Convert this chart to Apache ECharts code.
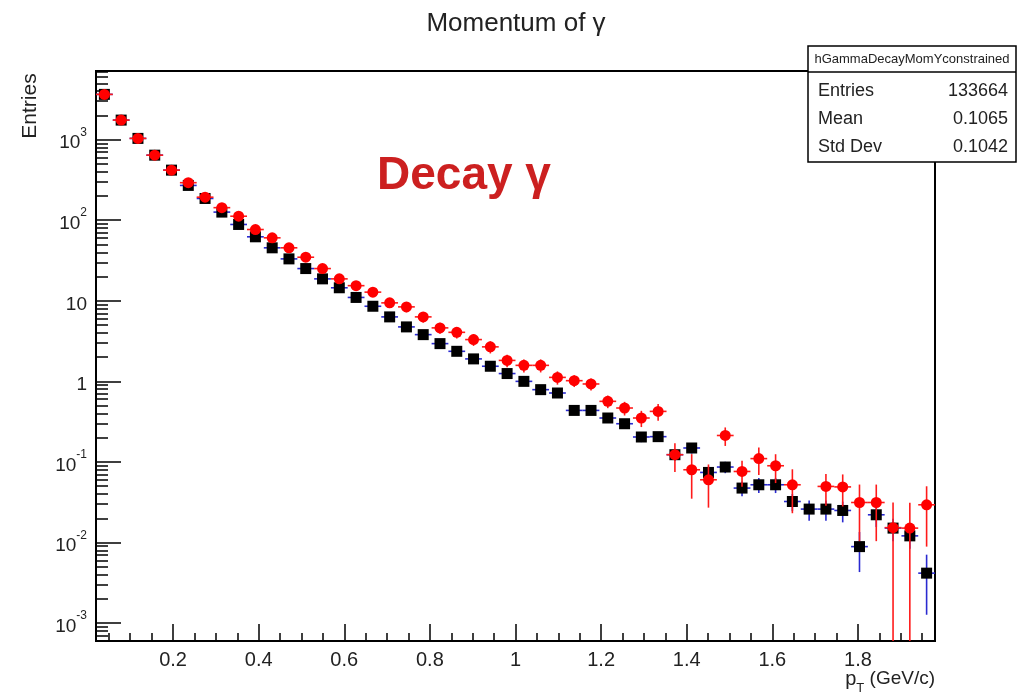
<!DOCTYPE html>
<html>
<head>
<meta charset="utf-8">
<title>Momentum of γ</title>
<script src="https://cdn.jsdelivr.net/npm/echarts@6/dist/echarts.min.js"></script>
<style>
  html, body { margin: 0; padding: 0; background: #ffffff; }
  #chart { width: 1018px; height: 697px; }
</style>
</head>
<body>
<div id="chart"></div>
<script>
// pT bin centres (GeV/c), 50 bins between 0.02 and 1.98
const binCenters = [
  0.0396, 0.0788, 0.1180, 0.1572, 0.1964, 0.2356, 0.2748, 0.3140, 0.3532, 0.3924,
  0.4316, 0.4708, 0.5100, 0.5492, 0.5884, 0.6276, 0.6668, 0.7060, 0.7452, 0.7844,
  0.8236, 0.8628, 0.9020, 0.9412, 0.9804, 1.0196, 1.0588, 1.0980, 1.1372, 1.1764,
  1.2156, 1.2548, 1.2940, 1.3332, 1.3724, 1.4116, 1.4508, 1.4900, 1.5292, 1.5684,
  1.6076, 1.6468, 1.6860, 1.7252, 1.7644, 1.8036, 1.8428, 1.8820, 1.9212, 1.9604
];

// hGammaDecayMomYconstrained (black squares, blue errors)
const entriesBlack = [
  3640, 1746, 1035, 641, 418, 270, 186, 126, 88.5, 62.2,
  45.4, 33.1, 25.1, 18.7, 14.5, 11.0, 8.55, 6.31, 4.74, 3.80,
  2.94, 2.36, 1.90, 1.54, 1.25, 1.00, 0.789, 0.717, 0.436, 0.436,
  0.351, 0.298, 0.204, 0.206, 0.123, 0.149, 0.0741, 0.0865, 0.0474, 0.0521,
  0.0521, 0.0323, 0.0260, 0.0260, 0.0250, 0.0089, 0.0221, 0.0151, 0.0121, 0.00417
];
const errorsBlack = [
  20, 12, 8, 6, 4.5, 3.5, 2.8, 2.2, 1.8, 1.5,
  1.2, 1.0, 0.8, 0.65, 0.55, 0.45, 0.38, 0.3, 0.25, 0.21,
  0.18, 0.15, 0.13, 0.11, 0.095, 0.08, 0.07, 0.065, 0.045, 0.045,
  0.04, 0.035, 0.028, 0.028, 0.02, 0.022, 0.013, 0.014, 0.010, 0.011,
  0.011, 0.0078, 0.0073, 0.0073, 0.0072, 0.0046, 0.0065, 0.0047, 0.0037, 0.0029
];

// decay photon spectrum (red circles, red errors); null = empty bin
const entriesRed = [
  3640, 1746, 1035, 641, 418, 292, 193, 143, 112, 76.6,
  60.4, 45.4, 34.7, 25.1, 18.7, 15.4, 12.8, 9.42, 8.4, 6.31,
  4.61, 4.06, 3.30, 2.68, 1.82, 1.58, 1.58, 1.12, 1.02, 0.928,
  0.565, 0.467, 0.351, 0.424, 0.123, 0.080, 0.0601, 0.213, 0.0762, 0.110,
  0.0897, 0.0521, null, 0.0497, 0.0490, 0.0314, 0.0314, 0.0153, 0.0151, 0.0294
];
const errorsRed = [
  40, 25, 18, 14, 11, 12, 9, 8, 7, 5.5,
  5, 4.2, 3.5, 2.8, 2.2, 1.9, 1.6, 1.3, 1.2, 0.95,
  0.72, 0.66, 0.55, 0.46, 0.32, 0.29, 0.29, 0.21, 0.17, 0.16,
  0.10, 0.09, 0.08, 0.10, 0.048, 0.045, 0.033, 0.055, 0.027, 0.041,
  0.035, 0.029, 0, 0.021, 0.021, 0.021, 0.021, 0.016, 0.016, 0.0205
];

// axis ranges and tick positions
const X_MIN = 0.02, X_MAX = 1.98;
const Y_MIN = 6.0e-4, Y_MAX = 7100;
const HALF_BIN = 0.0196;
const xMajorTicks = [0.2, 0.4, 0.6, 0.8, 1.0, 1.2, 1.4, 1.6, 1.8];
const xMinorTicks = [];
for (let k = 1; k <= 39; k++) {
  if (k % 4 !== 0) xMinorTicks.push(+(k * 0.05).toFixed(2));
}
const yMajorTicks = [1e-3, 1e-2, 1e-1, 1, 10, 100, 1000];
const yMinorTicks = [];
for (let e = -4; e <= 3; e++) {
  for (let m = 2; m <= 9; m++) {
    const v = m * Math.pow(10, e);
    if (v > Y_MIN && v < Y_MAX) yMinorTicks.push(v);
  }
}

const statsTitle = 'hGammaDecayMomYconstrained';
const statsRows = [['Entries', '133664'], ['Mean', '0.1065'], ['Std Dev', '0.1042']];

const FONT = "'Liberation Sans', Arial, sans-serif";

function errorBarSeries(name, values, errors, color, z) {
  return {
    name: name,
    type: 'custom',
    z: z,
    clip: true,
    silent: true,
    data: binCenters.map((x, i) => values[i] == null ? [x, NaN, 0] : [x, values[i], errors[i]]),
    renderItem: function (params, api) {
      const x = api.value(0), y = api.value(1), e = api.value(2);
      if (!(y > 0)) return null;
      const lo = (y - e) > Y_MIN ? y - e : Y_MIN;
      const hi = Math.min(y + e, Y_MAX);
      const pL = api.coord([x - HALF_BIN, y]);
      const pR = api.coord([x + HALF_BIN, y]);
      const pT = api.coord([x, hi]);
      const pB = api.coord([x, lo]);
      const style = { stroke: color, lineWidth: 1.6 };
      return {
        type: 'group',
        children: [
          { type: 'line', shape: { x1: pL[0], y1: pL[1], x2: pR[0], y2: pR[1] }, style: style },
          { type: 'line', shape: { x1: pT[0], y1: pT[1], x2: pB[0], y2: pB[1] }, style: style }
        ]
      };
    }
  };
}

function markerSeries(name, values, symbol, size, color, z) {
  return {
    name: name,
    type: 'scatter',
    z: z,
    silent: true,
    symbol: symbol,
    symbolSize: size,
    itemStyle: { color: color, opacity: 1 },
    data: binCenters.map((x, i) => values[i] == null ? [x, '-'] : [x, values[i]])
  };
}

function logLabel(v) {
  const e = Math.round(Math.log10(v));
  if (e === 0) return '{b|1}';
  if (e === 1) return '{b|10}';
  return '{b|10}{s|' + e + '}';
}

const chart = echarts.init(document.getElementById('chart'), null, { renderer: 'canvas' });

const option = {
  backgroundColor: '#ffffff',
  animation: false,
  grid: {
    left: 96, top: 71, right: 83, bottom: 56,
    show: true, borderColor: '#000000', borderWidth: 2,
    backgroundColor: 'transparent',
    outerBoundsMode: 'none'
  },
  xAxis: [
    {
      type: 'value', min: X_MIN, max: X_MAX, position: 'bottom',
      axisLine: { show: true, onZero: false, lineStyle: { color: '#000', width: 2 } },
      axisTick: { show: true, inside: true, length: 17, customValues: xMajorTicks, lineStyle: { color: '#000', width: 1.5 } },
      axisLabel: {
        show: true, customValues: xMajorTicks, margin: 9,
        color: '#222', fontSize: 20, fontFamily: FONT,
        formatter: v => String(Math.round(v * 10) / 10)
      },
      splitLine: { show: false }
    },
    {
      type: 'value', min: X_MIN, max: X_MAX, position: 'bottom',
      axisLine: { show: false, onZero: false },
      axisTick: { show: true, inside: true, length: 8, customValues: xMinorTicks, lineStyle: { color: '#000', width: 1.5 } },
      axisLabel: { show: false },
      splitLine: { show: false }
    }
  ],
  yAxis: [
    {
      type: 'log', logBase: 10, min: Y_MIN, max: Y_MAX, position: 'left',
      axisLine: { show: true, onZero: false, lineStyle: { color: '#000', width: 2 } },
      axisTick: { show: true, inside: true, length: 25, customValues: yMajorTicks, lineStyle: { color: '#000', width: 1.5 } },
      axisLabel: {
        show: true, customValues: yMajorTicks, margin: 9,
        formatter: logLabel,
        rich: {
          b: { fontSize: 19, fontFamily: FONT, color: '#222', lineHeight: 26, verticalAlign: 'bottom', padding: [6, 0, 0, 0] },
          s: { fontSize: 12, fontFamily: FONT, color: '#222', lineHeight: 26, verticalAlign: 'top' }
        }
      },
      splitLine: { show: false }
    },
    {
      type: 'log', logBase: 10, min: Y_MIN, max: Y_MAX, position: 'left',
      axisLine: { show: false, onZero: false },
      axisTick: { show: true, inside: true, length: 12, customValues: yMinorTicks, lineStyle: { color: '#000', width: 1.5 } },
      axisLabel: { show: false },
      splitLine: { show: false }
    }
  ],
  series: [
    errorBarSeries('black errors', entriesBlack, errorsBlack, '#2a2ad0', 2),
    markerSeries('black', entriesBlack, 'rect', 11, '#000000', 3),
    errorBarSeries('red errors', entriesRed, errorsRed, '#ff1a1a', 4),
    markerSeries('red', entriesRed, 'circle', 11, '#ff0000', 5)
  ],
  graphic: [
    {
      type: 'text', x: 516, y: 24, z: 50,
      style: { text: 'Momentum of γ', fill: '#222', font: '26px ' + FONT, textAlign: 'center', textVerticalAlign: 'middle' }
    },
    {
      type: 'text', x: 30, y: 106, rotation: Math.PI / 2, z: 50,
      style: { text: 'Entries', fill: '#222', font: '21px ' + FONT, textAlign: 'center', textVerticalAlign: 'middle' }
    },
    {
      type: 'text', x: 935, y: 682, z: 50,
      style: {
        text: '{p|p}{t|T}{n| (GeV/c)}', textAlign: 'right', textVerticalAlign: 'middle',
        rich: {
          p: { fontSize: 20, fontFamily: FONT, fill: '#222', lineHeight: 26, verticalAlign: 'top' },
          t: { fontSize: 13, fontFamily: FONT, fill: '#222', lineHeight: 26, verticalAlign: 'bottom' },
          n: { fontSize: 19, fontFamily: FONT, fill: '#222', lineHeight: 26, verticalAlign: 'top' }
        }
      }
    },
    {
      type: 'text', x: 377, y: 176, z: 50,
      style: { text: 'Decay γ', fill: '#cc2020', font: 'bold 46px ' + FONT, textAlign: 'left', textVerticalAlign: 'middle' }
    },
    {
      type: 'group', z: 100,
      children: [
        { type: 'rect', shape: { x: 808, y: 46, width: 208, height: 116 }, style: { fill: '#ffffff', stroke: '#000', lineWidth: 1.5 } },
        { type: 'line', shape: { x1: 808, y1: 72, x2: 1016, y2: 72 }, style: { stroke: '#000', lineWidth: 1.5 } },
        { type: 'text', x: 912, y: 59, style: { text: statsTitle, fill: '#222', font: '13px ' + FONT, textAlign: 'center', textVerticalAlign: 'middle' } }
      ].concat(statsRows.flatMap((row, i) => [
        { type: 'text', x: 818, y: 91 + i * 28, style: { text: row[0], fill: '#222', font: '18px ' + FONT, textAlign: 'left', textVerticalAlign: 'middle' } },
        { type: 'text', x: 1008, y: 91 + i * 28, style: { text: row[1], fill: '#222', font: '18px ' + FONT, textAlign: 'right', textVerticalAlign: 'middle' } }
      ]))
    }
  ]
};

chart.setOption(option);
</script>
</body>
</html>
